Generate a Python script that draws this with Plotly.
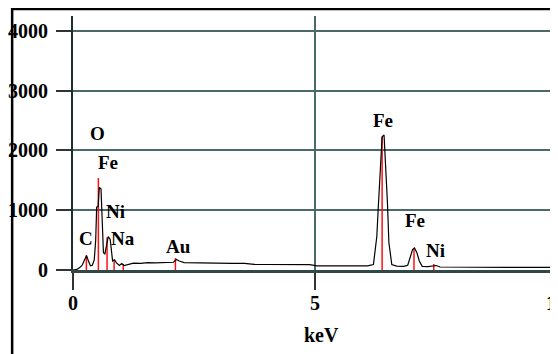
import plotly.graph_objects as go

# EDS spectrum (keV, counts)
energy = [0.0, 0.08, 0.14, 0.19, 0.24, 0.28, 0.32, 0.36, 0.40, 0.44, 0.47, 0.49,
          0.52, 0.545, 0.58, 0.61, 0.63, 0.66, 0.70, 0.73, 0.77, 0.80, 0.82, 0.86,
          0.90, 0.96, 1.01, 1.06, 1.15, 1.25, 1.4, 1.55, 1.7, 1.85, 2.0, 2.08,
          2.14, 2.2, 2.3, 2.5, 2.7, 3.0, 3.3, 3.55, 3.75, 4.0, 4.5, 4.9, 5.05,
          5.4, 5.8, 6.1, 6.22, 6.29, 6.32, 6.36, 6.40, 6.44, 6.47, 6.51, 6.54,
          6.60, 6.7, 6.85, 6.93, 6.98, 7.03, 7.07, 7.12, 7.17, 7.23, 7.35, 7.45,
          7.52, 7.6, 8.0, 8.5, 9.0, 9.5, 10.0]
counts = [0, 10, 40, 80, 170, 240, 150, 70, 80, 170, 500, 1050,
          1060, 1380, 1360, 730, 290, 270, 460, 560, 510, 240, 150, 170,
          120, 75, 110, 75, 90, 115, 110, 125, 120, 120, 125, 130,
          175, 150, 125, 120, 118, 115, 112, 110, 95, 92, 90, 90, 70,
          68, 65, 70, 90, 560, 1040, 1680, 2230, 2260, 1850, 1130, 460,
          90, 65, 62, 80, 230, 340, 370, 290, 150, 60, 55, 70,
          75, 50, 45, 45, 45, 45, 45]

# element marker lines (red)
line_energy = [0.277, 0.525, 0.705, 0.851, 1.041, 2.12, 6.40, 7.06, 7.47]
line_height = [250, 1540, 550, 170, 100, 200, 2230, 350, 100]

# peak labels
label_text = ["C", "O", "Fe", "Ni", "Na", "Au", "Fe", "Fe", "Ni"]
label_x = [0.27, 0.50, 0.73, 0.89, 1.04, 2.18, 6.42, 7.08, 7.51]
label_y = [520, 2290, 1800, 985, 520, 400, 2500, 820, 320]

x_ticks = [0, 5, 10]
y_ticks = [0, 1000, 2000, 3000, 4000]

fx, fy = [], []
for e, h in zip(line_energy, line_height):
    fx += [e, e, None]
    fy += [0, h, None]

serif = "Liberation Serif, Times New Roman, serif"
bold = dict(family=serif, size=19, color="black", weight="bold")

fig = go.Figure()
fig.add_trace(go.Scatter(x=fx, y=fy, mode="lines",
                         line=dict(color="#ff1010", width=1.5), hoverinfo="skip"))
fig.add_trace(go.Scatter(x=energy, y=counts, mode="lines",
                         line=dict(color="black", width=1.2)))

for t, x, y in zip(label_text, label_x, label_y):
    fig.add_annotation(x=x, y=y, text=t, showarrow=False, font=bold)

# x tick labels as annotations so the cut-off "10" at the right edge still shows
for v in x_ticks:
    fig.add_annotation(x=v, y=-0.13, xref="x", yref="paper", text=str(v),
                       showarrow=False, yanchor="middle", xanchor="center",
                       font=dict(bold, size=20))

fig.add_annotation(x=5.15, y=-0.255, xref="x", yref="paper", text="keV",
                   showarrow=False, yanchor="middle",
                   font=dict(bold, size=20))

# outer frame
fig.add_shape(type="rect", xref="paper", yref="paper",
              x0=-0.126, x1=1.2, y0=-0.6, y1=1.028,
              line=dict(color="black", width=2.5))

fig.update_xaxes(range=[0, 10], tickvals=x_ticks, showticklabels=False,
                 ticks="outside", ticklen=17,
                 tickwidth=2, tickcolor="#333", showgrid=True, gridcolor="#4a6a6a",
                 gridwidth=1.5, showline=True, linecolor="#2f4848", linewidth=3,
                 zeroline=False, automargin=False)
fig.update_yaxes(range=[0, 4250], tickvals=y_ticks,
                 ticks="outside", ticklen=15, tickwidth=2, tickcolor="#333",
                 showgrid=True, gridcolor="#4a6a6a", gridwidth=1.5,
                 showline=True, linecolor="#1e2e2e", linewidth=2, zeroline=False,
                 ticklabelstandoff=4, automargin=False,
                 tickfont=dict(bold, size=20))

# the page puts an 8px body margin round the figure, so the figure is 8px smaller
fig.update_layout(width=550, height=346, showlegend=False,
                  margin=dict(l=65, r=2, t=8, b=84, autoexpand=False),
                  plot_bgcolor="white", paper_bgcolor="white")

fig.write_html("out.html")
